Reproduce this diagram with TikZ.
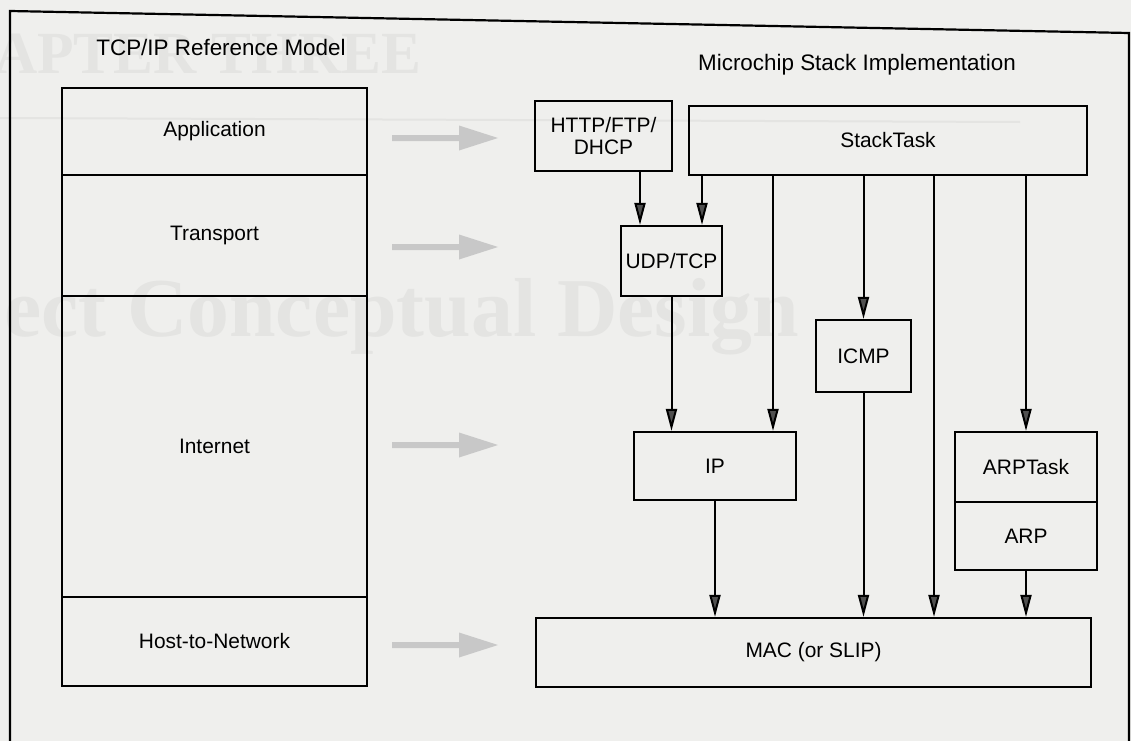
\documentclass[tikz,border=0pt]{standalone}
\usepackage{fontspec}
\setmainfont{Liberation Sans}
\newfontfamily\ghostfont{Liberation Serif}
\usetikzlibrary{arrows.meta,calc}
\definecolor{paper}{RGB}{239,239,237}
\definecolor{ghost}{RGB}{228,228,226}
\definecolor{blockarrow}{RGB}{200,200,200}
\definecolor{tipgray}{RGB}{80,80,80}
\newcommand{\lblfont}{\fontsize{21}{22}\selectfont}
\newcommand{\ttlfont}{\fontsize{22.5}{26}\selectfont}
\begin{document}
\begin{tikzpicture}[x=1bp,y=-1bp,
  layerbox/.style={draw, line width=2.2bp, rectangle, inner sep=0pt, font=\lblfont, align=center},
  titletext/.style={inner sep=0pt, font=\ttlfont},
  ghosttext/.style={inner sep=0pt, text=ghost, anchor=base west},
  conn/.style={line width=2bp, -{Triangle[length=22bp,width=11bp,fill=tipgray]}},
  blockarr/.style={fill=blockarrow}
]
\fill[paper] (0,0) rectangle (1131,741);
\useasboundingbox (0,0) rectangle (1131,741);

% faint show-through from the other side of the page
\node[ghosttext, font=\ghostfont\bfseries\fontsize{60}{60}\selectfont] (ghostA) at (-6,74) {APTER THREE};
\draw[ghost, line width=2bp] (0,118) -- (1020,122);
\node[ghosttext, font=\ghostfont\bfseries\fontsize{84}{84}\selectfont] (ghostB) at (-24,336) {ject Conceptual Design};

% outer frame
\draw[line width=2.2bp] (10,745) -- (10,11) -- (1129,33) -- (1129,745);

% titles
\node[titletext] (ltitle) at (221,47) {TCP/IP Reference Model};
\node[titletext] (rtitle) at (857,65) {Microchip Stack Implementation};

% TCP/IP reference model stack
\node[layerbox, minimum width=305bp, minimum height=87bp]  (app)   at (214.5,131.5) {Application};
\node[layerbox, minimum width=305bp, minimum height=121bp] (trans) at (214.5,235.5) {Transport};
\node[layerbox, minimum width=305bp, minimum height=301bp] (inet)  at (214.5,446.5) {Internet};
\node[layerbox, minimum width=305bp, minimum height=89bp]  (host)  at (214.5,641.5) {Host-to-Network};

% grey block arrows
\foreach \yy in {138,247,445,645} {
  \fill[blockarr] (392,{\yy-3}) -- (459,{\yy-3}) -- (459,{\yy-12.5}) -- (498,\yy)
     -- (459,{\yy+12.5}) -- (459,{\yy+3}) -- (392,{\yy+3}) -- cycle;
}

% Microchip stack implementation
\node[layerbox, minimum width=137bp, minimum height=70bp] (http) at (603.5,136) {HTTP/FTP/\\DHCP};
\node[layerbox, minimum width=398bp, minimum height=69bp] (stack) at (888,140.5) {StackTask};
\node[layerbox, minimum width=101bp, minimum height=70bp] (udp) at (671.5,261) {UDP/TCP};
\node[layerbox, minimum width=95bp, minimum height=72bp] (icmp) at (863.5,356) {ICMP};
\node[layerbox, minimum width=162bp, minimum height=68bp] (ip) at (715,466) {IP};
\node[layerbox, minimum width=142bp, minimum height=70bp] (arptask) at (1026,467) {ARPTask};
\node[layerbox, minimum width=142bp, minimum height=68bp] (arp) at (1026,536) {ARP};
\node[layerbox, minimum width=555bp, minimum height=69bp] (mac) at (813.5,652.5) {MAC (or SLIP)};

% x positions of the vertical connectors
\coordinate (xa) at (640,0);
\coordinate (xb) at (702,0);
\coordinate (xc) at (773,0);
\coordinate (xd) at (934,0);

\draw[conn] (http.south -| xa) -- (udp.north -| xa);
\draw[conn] (stack.south -| xb) -- (udp.north -| xb);
\draw[conn] (stack.south -| xc) -- (ip.north -| xc);
\draw[conn] (stack.south -| icmp.north) -- (icmp.north);
\draw[conn] (stack.south -| xd) -- (mac.north -| xd);
\draw[conn] (stack.south -| arptask.north) -- (arptask.north);
\draw[conn] (udp.south) -- (ip.north -| udp.south);
\draw[conn] (ip.south) -- (mac.north -| ip.south);
\draw[conn] (icmp.south) -- (mac.north -| icmp.south);
\draw[conn] (arp.south) -- (mac.north -| arp.south);
\end{tikzpicture}
\end{document}
